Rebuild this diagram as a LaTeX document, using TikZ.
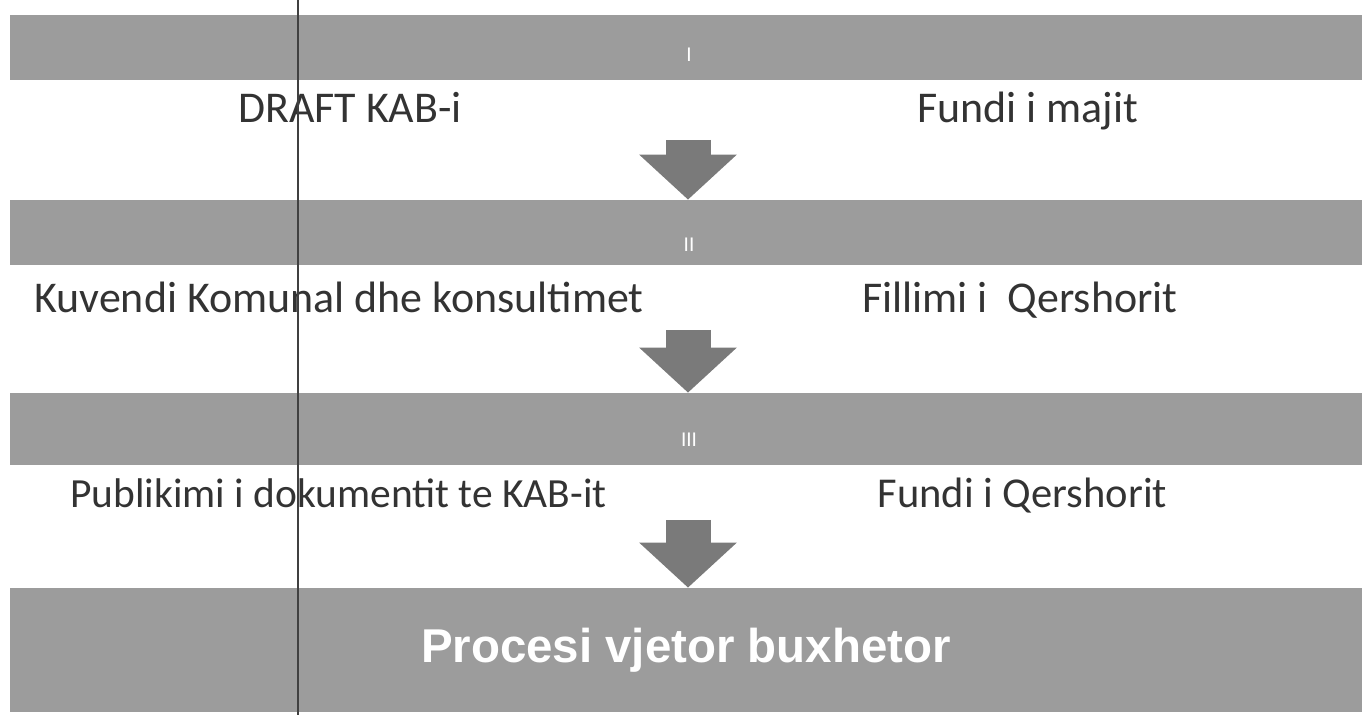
\documentclass[tikz,border=0pt]{standalone}
\usepackage{fontspec}
\setmainfont{Carlito}
\newfontfamily\titlefont{Liberation Sans}
\usepackage{tikz}
\usetikzlibrary{arrows.meta}

\definecolor{bargray}{RGB}{156,156,156}
\definecolor{arrowgray}{RGB}{122,122,122}

\tikzset{
    bar/.style={fill=bargray, draw=none, inner sep=0pt, minimum width=27.04cm},
    roman/.style={text=white, font=\fontsize{12}{14}\selectfont},
    steptext/.style={anchor=base, text=black!80, font=\fontsize{25}{29}\selectfont},
    blockarrow/.style={draw=arrowgray, line width=0.9cm,
        -{Triangle[width=1.9cm, length=0.9cm, fill=arrowgray]}}
}

\begin{document}
\begin{tikzpicture}[fill=white]
        \useasboundingbox (0,0) rectangle (27.32,14.3);

        % Bars.
        \draw (13.72,13.35) node[bar, minimum height=1.3cm] (b1) {};
        \draw (13.72,9.65) node[bar, minimum height=1.3cm] (b2) {};
        \draw (13.72,5.72) node[bar, minimum height=1.44cm] (b3) {};
        \draw (13.72,1.3) node[bar, minimum height=2.48cm,
            text=white, font=\titlefont\bfseries\fontsize{27}{31}\selectfont] (b4)
            {Procesi vjetor buxhetor};

        % Step numbers.
        \draw (13.78,13.2) node[roman] (r1) {I};
        \draw (13.78,9.4) node[roman] (r2) {II};
        \draw (13.78,5.5) node[roman] (r3) {III};

        % Steps and dates.
        \draw (7.0,11.84) node[steptext] (s1) {DRAFT KAB-i};
        \draw (20.55,11.84) node[steptext] (d1) {Fundi i majit};
        \draw (6.78,8.04) node[steptext] (s2) {Kuvendi Komunal dhe konsultimet};
        \draw (20.4,8.04) node[steptext] (d2) {Fillimi i\ \ Qershorit};
        \draw (6.77,4.14) node[steptext, font=\fontsize{23.6}{28}\selectfont] (s3)
            {Publikimi i dokumentit te KAB-it};
        \draw (20.45,4.14) node[steptext, font=\fontsize{24.2}{28}\selectfont] (d3)
            {Fundi i Qershorit};

        % Arrows between the bars.
        \coordinate (a1) at (13.76,11.5);
        \coordinate (a2) at (13.76,7.7);
        \coordinate (a3) at (13.76,3.9);
        \draw[blockarrow] (a1) -- (b2.north -| a1);
        \draw[blockarrow] (a2) -- (b3.north -| a2);
        \draw[blockarrow] (a3) -- (b4.north -| a3);

        % Fold line of the page.
        \coordinate (f1) at (5.96,14.3);
        \coordinate (f2) at (5.96,0);
        \draw[black!75, line width=0.6pt] (f1) -- (f2);
    \end{tikzpicture}
\end{document}
